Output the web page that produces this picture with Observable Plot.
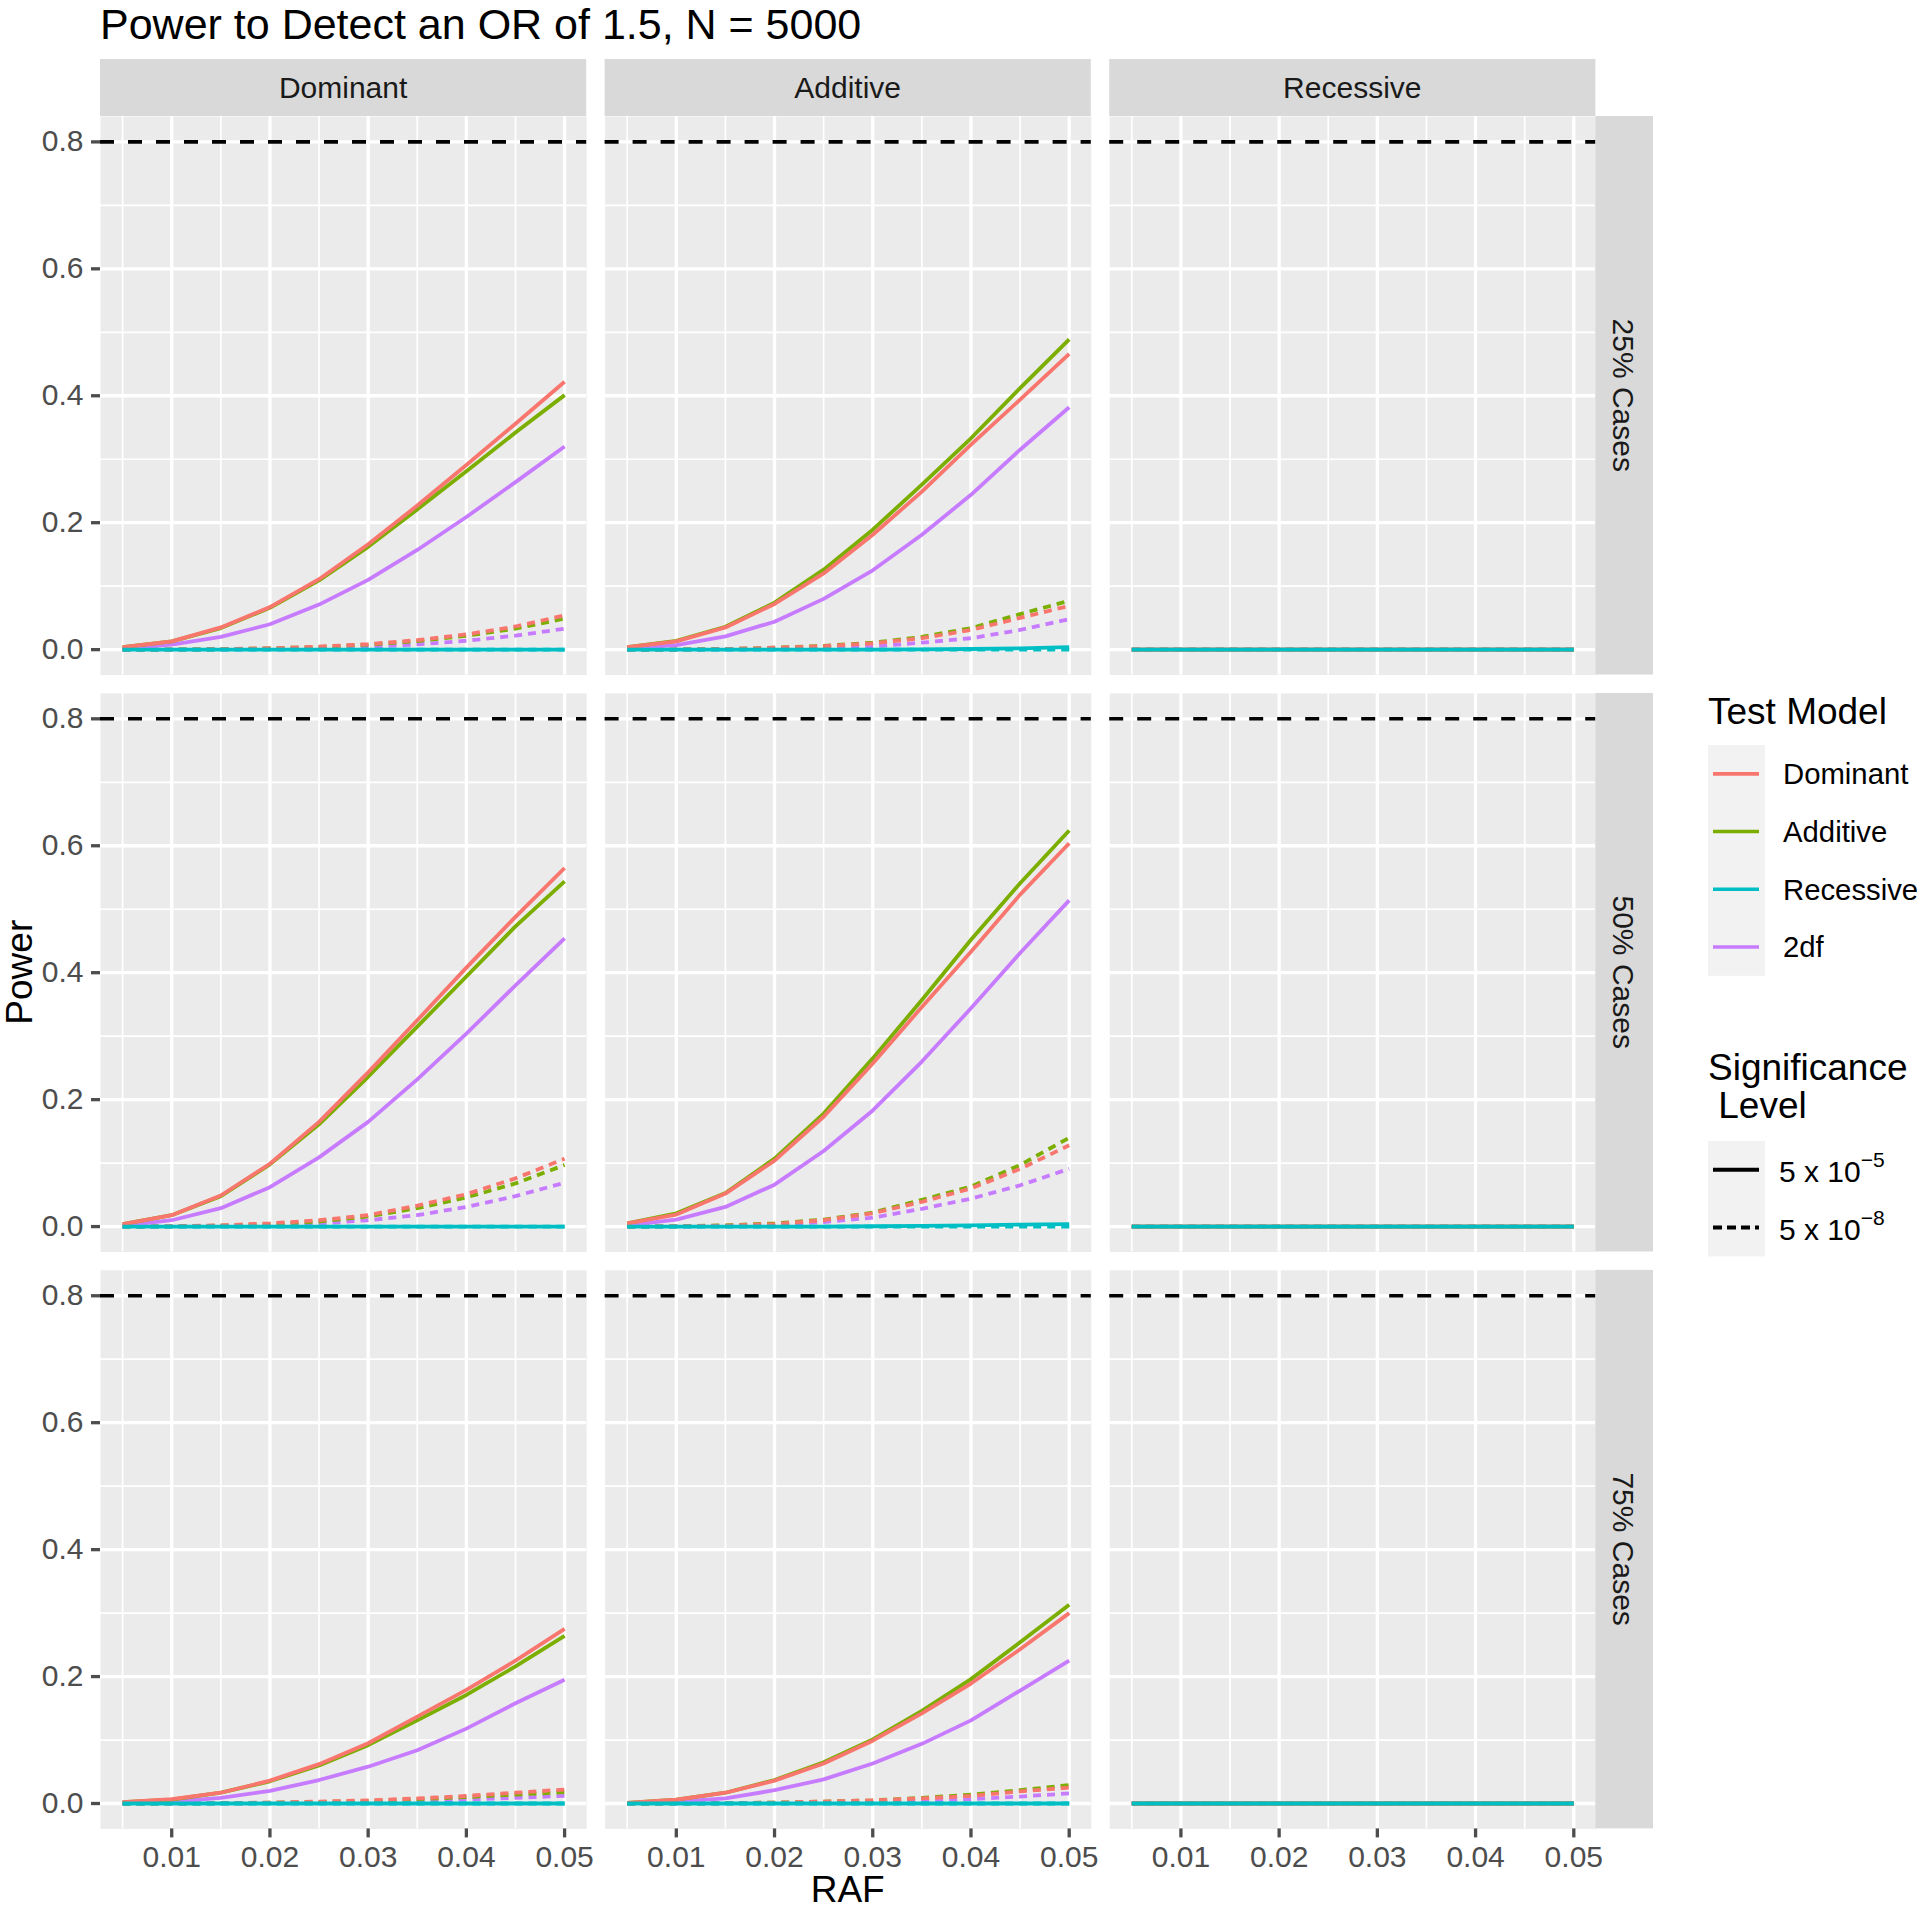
<!DOCTYPE html>
<html><head><meta charset="utf-8">
<script src="https://cdn.jsdelivr.net/npm/d3@7"></script>
<script src="https://cdn.jsdelivr.net/npm/@observablehq/plot@0.6"></script>
<style>
html,body{margin:0;padding:0;background:#fff;}
#wrap{position:relative;width:1920px;height:1909px;overflow:hidden;font-family:"Liberation Sans",Arial,Helvetica,sans-serif;}
#plot{position:absolute;left:0;top:59px;}
#overlay{position:absolute;left:0;top:0;pointer-events:none;}
g[aria-label="y-axis tick"], g[aria-label="x-axis tick"]{stroke:#333333;}
</style></head>
<body><div id="wrap"><div id="plot"></div><svg id="overlay" width="1920" height="1909"></svg></div>
<script>
// ---------- data ----------
const chartTitle = "Power to Detect an OR of 1.5, N = 5000";
const xTitle = "RAF";
const yTitle = "Power";
const raf = [0.005, 0.01, 0.015, 0.02, 0.025, 0.03, 0.035, 0.04, 0.045, 0.05];
const trueModels = ["Dominant", "Additive", "Recessive"];
const caseRows = ["25% Cases", "50% Cases", "75% Cases"];
const testModels = ["Dominant", "Additive", "Recessive", "2df"];
const testColors = ["#F8766D", "#7CAE00", "#00BFC4", "#C77CFF"];
const sigLevels = ["5e-5", "5e-8"];
const sigBase = ["5 x 10", "5 x 10"];
const sigExp = ["\u22125", "\u22128"];
const colorLegendTitle = "Test Model";
const sigLegendTitle = ["Significance", " Level"];
const yTicks = [0, 0.2, 0.4, 0.6, 0.8];
const yMinor = [0.1, 0.3, 0.5, 0.7];
const xTicks = [0.01, 0.02, 0.03, 0.04, 0.05];
const xMinor = [0.005, 0.015, 0.025, 0.035, 0.045];
const targetPower = 0.8;
const zero = [0, 0, 0, 0, 0, 0, 0, 0, 0, 0];

// 25% cases
const c25_dom_s5 = {
  Dominant: [0.004, 0.013, 0.035, 0.067, 0.111, 0.166, 0.227, 0.291, 0.356, 0.422],
  Additive: [0.004, 0.013, 0.034, 0.066, 0.109, 0.162, 0.221, 0.281, 0.342, 0.401],
  Recessive: zero,
  "2df": [0.002, 0.008, 0.020, 0.040, 0.071, 0.110, 0.157, 0.209, 0.264, 0.320]
};
const c25_dom_s8 = {
  Dominant: [0, 0.0002, 0.0008, 0.0022, 0.0047, 0.0088, 0.015, 0.024, 0.0365, 0.054],
  Additive: [0, 0.0002, 0.0007, 0.002, 0.0043, 0.008, 0.0135, 0.0218, 0.033, 0.049],
  Recessive: zero,
  "2df": [0, 0.0001, 0.0003, 0.001, 0.0022, 0.0045, 0.0082, 0.014, 0.022, 0.033]
};
const c25_add_s5 = {
  Dominant: [0.004, 0.013, 0.035, 0.072, 0.120, 0.181, 0.249, 0.323, 0.394, 0.466],
  Additive: [0.004, 0.014, 0.036, 0.074, 0.126, 0.189, 0.260, 0.333, 0.412, 0.489],
  Recessive: [0, 0, 0, 0, 0, 0, 0.0005, 0.001, 0.002, 0.004],
  "2df": [0.002, 0.007, 0.021, 0.044, 0.080, 0.125, 0.181, 0.244, 0.315, 0.382]
};
const c25_add_s8 = {
  Dominant: [0, 0.0002, 0.001, 0.003, 0.0055, 0.010, 0.018, 0.031, 0.050, 0.069],
  Additive: [0, 0.0002, 0.001, 0.003, 0.006, 0.011, 0.020, 0.034, 0.056, 0.077],
  Recessive: zero,
  "2df": [0, 0.0001, 0.0004, 0.001, 0.0025, 0.005, 0.011, 0.018, 0.031, 0.048]
};
const c25_rec_s5 = {Dominant: zero, Additive: zero, Recessive: zero, "2df": zero};
const c25_rec_s8 = {Dominant: zero, Additive: zero, Recessive: zero, "2df": zero};

// 50% cases
const c50_dom_s5 = {
  Dominant: [0.004, 0.018, 0.049, 0.099, 0.165, 0.243, 0.325, 0.408, 0.488, 0.565],
  Additive: [0.004, 0.018, 0.048, 0.098, 0.161, 0.236, 0.315, 0.394, 0.473, 0.544],
  Recessive: zero,
  "2df": [0.001, 0.010, 0.029, 0.062, 0.109, 0.165, 0.232, 0.304, 0.380, 0.454]
};
const c50_dom_s8 = {
  Dominant: [0, 0.0005, 0.002, 0.005, 0.010, 0.018, 0.033, 0.051, 0.076, 0.107],
  Additive: [0, 0.0004, 0.0015, 0.004, 0.008, 0.016, 0.029, 0.046, 0.068, 0.097],
  Recessive: zero,
  "2df": [0, 0.0002, 0.001, 0.002, 0.005, 0.010, 0.018, 0.031, 0.048, 0.069]
};
const c50_add_s5 = {
  Dominant: [0.005, 0.019, 0.052, 0.104, 0.173, 0.257, 0.346, 0.433, 0.523, 0.604],
  Additive: [0.005, 0.021, 0.053, 0.107, 0.178, 0.265, 0.357, 0.452, 0.541, 0.624],
  Recessive: [0, 0, 0, 0, 0, 0.0005, 0.001, 0.002, 0.003, 0.004],
  "2df": [0.002, 0.011, 0.031, 0.066, 0.119, 0.183, 0.260, 0.344, 0.431, 0.514]
};
const c50_add_s8 = {
  Dominant: [0, 0.0005, 0.0015, 0.004, 0.010, 0.021, 0.039, 0.060, 0.091, 0.128],
  Additive: [0, 0.0005, 0.002, 0.005, 0.011, 0.022, 0.042, 0.063, 0.097, 0.140],
  Recessive: zero,
  "2df": [0, 0.0002, 0.001, 0.003, 0.007, 0.014, 0.028, 0.044, 0.065, 0.091]
};
const c50_rec_s5 = {Dominant: zero, Additive: zero, Recessive: zero, "2df": zero};
const c50_rec_s8 = {Dominant: zero, Additive: zero, Recessive: zero, "2df": zero};

// 75% cases
const c75_dom_s5 = {
  Dominant: [0.002, 0.007, 0.017, 0.036, 0.062, 0.095, 0.137, 0.179, 0.225, 0.275],
  Additive: [0.002, 0.006, 0.017, 0.035, 0.060, 0.092, 0.131, 0.171, 0.216, 0.264],
  Recessive: zero,
  "2df": [0.001, 0.003, 0.009, 0.020, 0.037, 0.058, 0.084, 0.118, 0.158, 0.195]
};
const c75_dom_s8 = {
  Dominant: [0, 0.0002, 0.0006, 0.0015, 0.003, 0.005, 0.008, 0.012, 0.017, 0.022],
  Additive: [0, 0.0001, 0.0005, 0.0012, 0.0025, 0.004, 0.007, 0.010, 0.014, 0.018],
  Recessive: zero,
  "2df": [0, 0.0001, 0.0002, 0.0006, 0.001, 0.002, 0.004, 0.006, 0.009, 0.012]
};
const c75_add_s5 = {
  Dominant: [0.001, 0.006, 0.017, 0.036, 0.063, 0.099, 0.142, 0.189, 0.243, 0.300],
  Additive: [0.001, 0.006, 0.017, 0.037, 0.065, 0.101, 0.146, 0.196, 0.254, 0.313],
  Recessive: zero,
  "2df": [0.0005, 0.003, 0.008, 0.021, 0.038, 0.063, 0.094, 0.131, 0.178, 0.225]
};
const c75_add_s8 = {
  Dominant: [0, 0.0001, 0.0005, 0.0015, 0.003, 0.005, 0.008, 0.012, 0.019, 0.025],
  Additive: [0, 0.0001, 0.0005, 0.0015, 0.003, 0.005, 0.009, 0.014, 0.021, 0.029],
  Recessive: zero,
  "2df": [0, 0.0001, 0.0002, 0.0006, 0.001, 0.002, 0.004, 0.007, 0.011, 0.016]
};
const c75_rec_s5 = {Dominant: zero, Additive: zero, Recessive: zero, "2df": zero};
const c75_rec_s8 = {Dominant: zero, Additive: zero, Recessive: zero, "2df": zero};

// ---------- assemble table ----------
const panelTable = [
  [caseRows[0], trueModels[0], c25_dom_s5, c25_dom_s8],
  [caseRows[0], trueModels[1], c25_add_s5, c25_add_s8],
  [caseRows[0], trueModels[2], c25_rec_s5, c25_rec_s8],
  [caseRows[1], trueModels[0], c50_dom_s5, c50_dom_s8],
  [caseRows[1], trueModels[1], c50_add_s5, c50_add_s8],
  [caseRows[1], trueModels[2], c50_rec_s5, c50_rec_s8],
  [caseRows[2], trueModels[0], c75_dom_s5, c75_dom_s8],
  [caseRows[2], trueModels[1], c75_add_s5, c75_add_s8],
  [caseRows[2], trueModels[2], c75_rec_s5, c75_rec_s8]
];
const drawOrder = ["2df", "Additive", "Dominant", "Recessive"];
const table = [];
for (const [row, col, s5, s8] of panelTable) {
  [[sigLevels[0], s5], [sigLevels[1], s8]].forEach(([sig, obj]) => {
    for (const t of drawOrder) obj[t].forEach((v, i) => table.push({row, col, sig, test: t, raf: raf[i], power: v}));
  });
}
const solid = table.filter(d => d.sig === sigLevels[0]);
const dashed = table.filter(d => d.sig === sigLevels[1]);

// ---------- layout ----------
const FONT = "'Liberation Sans', Arial, Helvetica, sans-serif";
const W = 1920, TOP = 59, H = 1850;
const mLeft = 100, mTop = 57, mRight = 324.6, mBottom = 80.6;
const gap = 18.4;
const innerW = W - mLeft - mRight, innerH = H - mTop - mBottom;
const stepX = (innerW + gap) / 3, stepY = (innerH + gap) / 3;
const panelW = stepX - gap, panelH = stepY - gap;

const xr = raf[raf.length - 1] - raf[0];
const xDomain = [raf[0] - 0.05 * xr, raf[raf.length - 1] + 0.05 * xr];
const yr = targetPower - 0;
const yDomain = [0 - 0.05 * yr, targetPower + 0.05 * yr];

const lineCommon = {x: "raf", y: "power", stroke: "test", z: "test", fx: "col", fy: "row", strokeWidth: 3.8, strokeLinejoin: "round"};

const chart = Plot.plot({
  width: W, height: H,
  marginTop: mTop, marginLeft: mLeft, marginRight: mRight, marginBottom: mBottom,
  style: {fontFamily: FONT, fontSize: "30px", color: "#4D4D4D", background: "transparent"},
  fx: {domain: trueModels, paddingInner: gap / stepX, paddingOuter: 0, round: false, axis: null, label: null},
  fy: {domain: caseRows, paddingInner: gap / stepY, paddingOuter: 0, round: false, axis: null, label: null},
  x: {domain: xDomain},
  y: {domain: yDomain},
  color: {domain: testModels, range: testColors},
  marks: [
    Plot.frame({fill: "#EBEBEB", stroke: "none"}),
    Plot.gridY(yMinor, {stroke: "white", strokeOpacity: 1, strokeWidth: 1.7}),
    Plot.gridX(xMinor, {stroke: "white", strokeOpacity: 1, strokeWidth: 1.7}),
    Plot.gridY(yTicks, {stroke: "white", strokeOpacity: 1, strokeWidth: 3.3}),
    Plot.gridX(xTicks, {stroke: "white", strokeOpacity: 1, strokeWidth: 3.3}),
    Plot.ruleY([targetPower], {stroke: "black", strokeWidth: 3.6, strokeDasharray: "14,14"}),
    Plot.line(dashed, {...lineCommon, strokeDasharray: "8,6", strokeLinecap: "butt"}),
    Plot.line(solid, {...lineCommon, strokeLinecap: "butt"}),
    Plot.axisY({anchor: "left", ticks: yTicks, tickFormat: d => d.toFixed(1), tickSize: 9, tickPadding: 8, strokeWidth: 3.3, fontSize: 30, label: null, color: "#4D4D4D"}),
    Plot.axisX({anchor: "bottom", ticks: xTicks, tickFormat: d => d.toFixed(2), tickSize: 9, tickPadding: 8, strokeWidth: 3.3, fontSize: 30, label: null, color: "#4D4D4D"})
  ]
});
document.getElementById("plot").appendChild(chart);

// ---------- overlay: title, strips, axis titles, legend ----------
const ov = d3.select("#overlay").attr("font-family", FONT);
ov.append("text").attr("x", 100).attr("y", 39).attr("font-size", 43).attr("fill", "black").text(chartTitle);

trueModels.forEach((m, i) => {
  const x0 = mLeft + i * stepX;
  ov.append("rect").attr("x", x0).attr("y", TOP).attr("width", panelW).attr("height", mTop).attr("fill", "#D9D9D9");
  ov.append("text").attr("x", x0 + panelW / 2).attr("y", TOP + mTop / 2).attr("dy", "0.36em")
    .attr("text-anchor", "middle").attr("font-size", 30).attr("fill", "#1A1A1A").text(m);
});
caseRows.forEach((r, j) => {
  const y0 = TOP + mTop + j * stepY;
  const x0 = mLeft + innerW;
  ov.append("rect").attr("x", x0).attr("y", y0).attr("width", 57.6).attr("height", panelH).attr("fill", "#D9D9D9");
  ov.append("text").attr("transform", `translate(${x0 + 28.8},${y0 + panelH / 2}) rotate(90)`).attr("dy", "0.36em")
    .attr("text-anchor", "middle").attr("font-size", 30).attr("fill", "#1A1A1A").text(r);
});
ov.append("text").attr("transform", `translate(32,${TOP + mTop + innerH / 2}) rotate(-90)`)
  .attr("text-anchor", "middle").attr("font-size", 37).attr("fill", "black").text(yTitle);
ov.append("text").attr("x", mLeft + innerW / 2).attr("y", 1902)
  .attr("text-anchor", "middle").attr("font-size", 37).attr("fill", "black").text(xTitle);

// legend 1: test model
const LX = 1708, KEY = 57.7;
ov.append("text").attr("x", LX).attr("y", 724).attr("font-size", 37).attr("fill", "black").text(colorLegendTitle);
ov.append("rect").attr("x", LX).attr("y", 745).attr("width", 57).attr("height", KEY * testModels.length).attr("fill", "#F2F2F2");
testModels.forEach((t, k) => {
  const cy = 745 + KEY * (k + 0.5);
  ov.append("line").attr("x1", LX + 5).attr("x2", LX + 51).attr("y1", cy).attr("y2", cy)
    .attr("stroke", testColors[k]).attr("stroke-width", 3.6);
  ov.append("text").attr("x", 1783).attr("y", cy).attr("dy", "0.36em").attr("font-size", 29.3).attr("fill", "black").text(t);
});
// legend 2: significance level
const sigTitle = ov.append("text").attr("font-size", 37).attr("fill", "black").style("white-space", "pre");
sigLegendTitle.forEach((s, k) => {
  sigTitle.append("tspan").attr("x", LX).attr("y", 1080 + 38 * k).text(s);
});
ov.append("rect").attr("x", LX).attr("y", 1141).attr("width", 57).attr("height", KEY * sigLevels.length).attr("fill", "#F2F2F2");
sigLevels.forEach((s, k) => {
  const cy = 1141 + KEY * (k + 0.5);
  ov.append("line").attr("x1", LX + 5).attr("x2", LX + 51).attr("y1", cy).attr("y2", cy)
    .attr("stroke", "black").attr("stroke-width", 4).attr("stroke-dasharray", k === 0 ? null : "9,5");
  const t = ov.append("text").attr("x", 1779).attr("y", cy + 12).attr("font-size", 30).attr("fill", "black");
  t.append("tspan").text(sigBase[k]);
  t.append("tspan").attr("font-size", 21).attr("dy", -15).text(sigExp[k]);
});
</script></body></html>
